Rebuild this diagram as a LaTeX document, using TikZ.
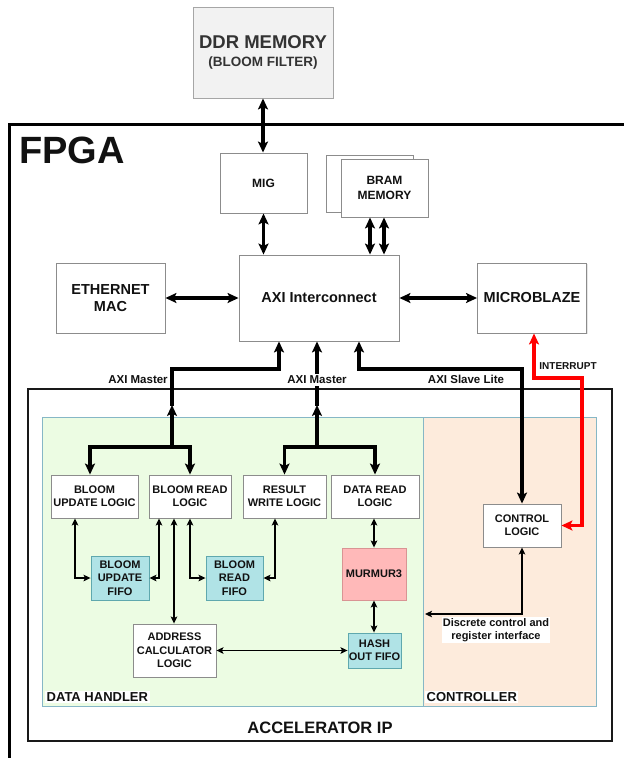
\documentclass[tikz,border=0pt]{standalone}
\usepackage{fontspec}
\setmainfont{Liberation Sans}
\usetikzlibrary{arrows.meta,shadows}
\definecolor{boxgray}{HTML}{8C8C8C}
\definecolor{txt}{HTML}{111111}
\definecolor{ddrfill}{HTML}{F2F2F2}
\definecolor{dhfill}{HTML}{ECFCE3}
\definecolor{ctfill}{HTML}{FDEBDC}
\definecolor{contb}{HTML}{86B7C6}
\definecolor{fifofill}{HTML}{B0E3E6}
\definecolor{fifob}{HTML}{5FA8AE}
\definecolor{murfill}{HTML}{FFB9B9}
\definecolor{murb}{HTML}{D99494}
\definecolor{intred}{HTML}{FF0000}
\newcommand{\myfs}[2]{\fontsize{#1}{#2}\selectfont}
\begin{document}
\begin{tikzpicture}[x=1pt,y=-1pt,
  blk/.style={draw=boxgray, fill=white, line width=0.9pt, inner sep=1pt, align=center, text=txt,
    font=\bfseries\myfs{11}{13.3}, drop shadow={shadow xshift=1.2pt, shadow yshift=-1.2pt, opacity=0.2}},
  fifo/.style={blk, fill=fifofill, draw=fifob, inner sep=0.3pt},
  cont/.style={draw=contb, line width=0.9pt, inner sep=0pt, anchor=north west},
  thk/.style={line width=3.2pt, draw=black, >={Stealth[length=11pt,width=10pt,inset=2.5pt]}},
  redln/.style={thk, draw=intred},
  thn/.style={line width=1.5pt, draw=black, >={Stealth[length=7pt,width=6.5pt,inset=1.5pt]}},
  lbl/.style={font=\bfseries\myfs{11.5}{13}, text=txt, fill=white, inner sep=1.5pt},
  sect/.style={font=\bfseries\myfs{13}{15}, text=txt, fill=white, inner sep=1.5pt, anchor=west}
]
\useasboundingbox (0,0) rectangle (624,758);
\clip (0,0) rectangle (624,758);

% containers
\node[draw=black, line width=3pt, inner sep=0pt, anchor=north west, minimum width=660pt, minimum height=660pt] (fpga) at (8,123) {};
\node[anchor=west, font=\bfseries\myfs{38}{40}, text=txt, inner sep=0pt] (fpgalbl) at (19,150) {FPGA};
\node[draw=black!90, line width=2pt, inner sep=0pt, anchor=north west, minimum width=584pt, minimum height=352pt] (acc) at (27,388) {};
\node[cont, fill=dhfill, minimum width=381pt, minimum height=289pt] (dh) at (42,417) {};
\node[cont, fill=ctfill, minimum width=173pt, minimum height=289pt] (ctl) at (423,417) {};
\node[sect] (dhlbl) at (45,697) {DATA HANDLER};
\node[sect] (ctllbl) at (425,697) {CONTROLLER};
\node[font=\bfseries\myfs{16.5}{19}, text=txt] (acclbl) at (320,728) {ACCELERATOR IP};

% top level blocks
\node[blk, fill=ddrfill, draw=black!35, text=black!80, minimum width=140pt, minimum height=91pt] (ddr) at (263,52.5)
  {{\myfs{18.5}{22}DDR MEMORY}\\[5pt]{\myfs{13.5}{16}(BLOOM FILTER)}};
\node[blk, font=\bfseries\myfs{12}{15}, minimum width=87pt, minimum height=60pt] (mig) at (263.5,183) {MIG};
\node[blk, minimum width=87pt, minimum height=57pt] (bramb) at (369.5,183.5) {};
\node[blk, font=\bfseries\myfs{12}{15}, minimum width=87pt, minimum height=58pt] (bram) at (384.5,188) {BRAM\\MEMORY};
\node[blk, font=\bfseries\myfs{14.5}{17}, minimum width=160pt, minimum height=86pt] (axi) at (319,298) {AXI Interconnect};
\node[blk, font=\bfseries\myfs{14.5}{17}, minimum width=109pt, minimum height=70pt] (eth) at (110.5,298) {ETHERNET\\MAC};
\node[blk, font=\bfseries\myfs{14.5}{17}, minimum width=109pt, minimum height=70pt] (mb) at (532,298) {MICROBLAZE};

% accelerator blocks
\node[blk, minimum width=87pt, minimum height=43pt] (bul) at (94.5,496.5) {BLOOM\\UPDATE LOGIC};
\node[blk, minimum width=82pt, minimum height=43pt] (brl) at (190,496.5) {BLOOM READ\\LOGIC};
\node[blk, minimum width=83pt, minimum height=43pt] (rwl) at (284.5,496.5) {RESULT\\WRITE LOGIC};
\node[blk, minimum width=88pt, minimum height=43pt] (drl) at (375,496.5) {DATA READ\\LOGIC};
\node[fifo, minimum width=58pt, minimum height=44pt] (buf) at (120,578) {BLOOM\\UPDATE\\FIFO};
\node[fifo, minimum width=57pt, minimum height=44pt] (brf) at (234.5,578) {BLOOM\\READ\\FIFO};
\node[blk, fill=murfill, draw=murb, minimum width=64pt, minimum height=52pt] (mur) at (374,574) {MURMUR3};
\node[fifo, minimum width=53pt, minimum height=35pt] (hof) at (374.5,650.5) {HASH\\OUT FIFO};
\node[blk, minimum width=83pt, minimum height=53pt] (acl) at (174.5,650.5) {ADDRESS\\CALCULATOR\\LOGIC};
\node[blk, minimum width=78pt, minimum height=43pt] (ctrl) at (522,525.5) {CONTROL\\LOGIC};

% junctions
\coordinate (j1) at (172,447);
\coordinate (j2) at (317,447);
\coordinate (dci) at (425,614);

% top connectors
\draw[thk, <->] (ddr.south) -- (ddr.south |- mig.north);
\draw[thk, <->] (mig.south) -- (mig.south |- axi.north);
\draw[thk, <->] (370,0 |- bram.south) -- (370,0 |- axi.north);
\draw[thk, <->] (384,0 |- bram.south) -- (384,0 |- axi.north);
\draw[thk, <->] (eth.east) -- (axi.west);
\draw[thk, <->] (axi.east) -- (mb.west);

% AXI master 1
\draw[thk, <-] (279,0 |- axi.south) |- (172,369) -- (172,406);
\draw[thk, ->] (j1) -- (172,405);
\draw[thk, ->] (j1) -| (90,0 |- bul.north);
\draw[thk, ->] (j1) -| (brl.north);
% AXI master 2
\draw[thk, <-] (317,0 |- axi.south) -- (317,406);
\draw[thk, ->] (j2) -- (317,405);
\draw[thk, ->] (j2) -| (rwl.north);
\draw[thk, ->] (j2) -| (drl.north);
% AXI slave lite
\draw[thk, <->] (359,0 |- axi.south) -- (359,369) -| (ctrl.north);
% interrupt
\draw[redln, <->] (534,0 |- mb.south) -- (534,378) -| (582,0 |- ctrl.east) -- (ctrl.east);

% inner connectors
\draw[thn, <->] (75,0 |- bul.south) |- (buf.west);
\draw[thn, <->] (159,0 |- brl.south) |- (buf.east);
\draw[thn, <->] (174,0 |- brl.south) -- (174,0 |- acl.north);
\draw[thn, <->] (190,0 |- brl.south) |- (brf.west);
\draw[thn, <->] (275,0 |- rwl.south) |- (brf.east);
\draw[thn, <->] (mur.north |- drl.south) -- (mur.north);
\draw[thn, <->] (mur.south) -- (mur.south |- hof.north);
\draw[thn, <->] (acl.east) -- (acl.east -| hof.west);
\draw[thn, <->] (ctrl.south) |- (dci);

% labels
\node[lbl] (m1lbl) at (138,380) {AXI Master};
\node[lbl] (m2lbl) at (317,380) {AXI Master};
\node[lbl] (sllbl) at (466,379) {AXI Slave Lite};
\node[lbl, font=\bfseries\myfs{10}{12}] (intlbl) at (568,366) {INTERRUPT};
\node[lbl, font=\bfseries\myfs{11}{13.5}, align=center, inner sep=1pt] (dcilbl) at (496,630) {Discrete control and\\register interface};
\end{tikzpicture}
\end{document}
